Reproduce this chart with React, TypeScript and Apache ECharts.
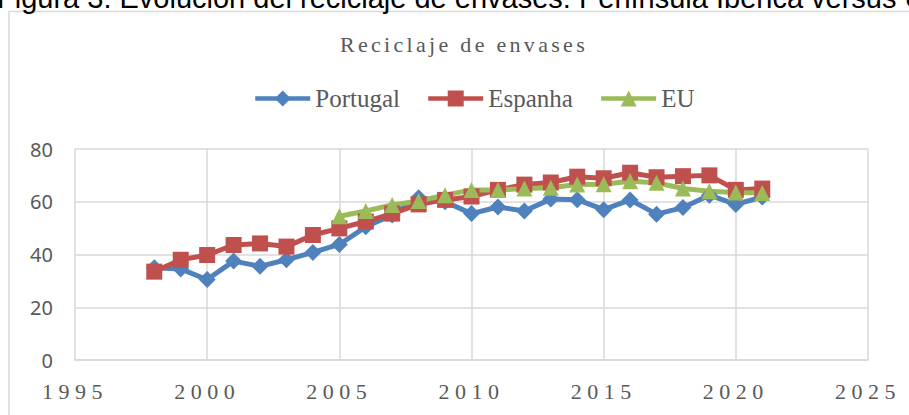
import React, { useEffect, useRef } from "react";
import * as echarts from "echarts";

const years = [1998, 1999, 2000, 2001, 2002, 2003, 2004, 2005, 2006, 2007, 2008, 2009, 2010, 2011, 2012, 2013, 2014, 2015, 2016, 2017, 2018, 2019, 2020, 2021];
const portugal = [35, 34.5, 30.5, 37.5, 35.5, 38, 40.8, 43.8, 50.5, 55, 61.5, 60, 55.5, 58, 56.5, 61, 60.8, 57, 60.7, 55.3, 57.8, 62.5, 59, 61.8];
const espanha = [33.5, 38, 39.8, 43.6, 44.2, 43, 47.4, 49.9, 52.5, 55.5, 59, 60.7, 62, 64.5, 66.5, 67.3, 69.5, 68.9, 71, 69.3, 69.7, 70, 64.5, 65];
const euYears = [2005, 2006, 2007, 2008, 2009, 2010, 2011, 2012, 2013, 2014, 2015, 2016, 2017, 2018, 2019, 2020, 2021];
const eu = [54.5, 56.5, 58.8, 60.3, 62.5, 64.5, 64.5, 65, 65.3, 66.5, 66.6, 67.8, 67.2, 65, 64, 63.5, 63.3];
const seriesNames = ["Portugal", "Espanha", "EU"];
const chartTitle = "Reciclaje de envases";
const caption = "Figura 3: Evolución del reciclaje de envases: Península Ibérica versus UE";

const BLUE = "#4F81BD";
const RED = "#C0504D";
const GREEN = "#9BBB59";
const GRID = "#D9D9D9";
const TXT = "#595959";

export default function App() {
  const ref = useRef<HTMLDivElement>(null);
  useEffect(() => {
    const chart = echarts.init(ref.current!, null, { renderer: "svg" });
    const pair = (xs: number[], ys: number[]) => xs.map((x, i) => [x, ys[i]]);
    chart.setOption({
      animation: false,
      backgroundColor: "#ffffff",
      graphic: [
        {
          type: "rect",
          shape: { x: 9, y: 11.5, width: 1000, height: 500 },
          style: { fill: "none", stroke: GRID, lineWidth: 1.5 },
          silent: true,
        },
        {
          type: "text",
          x: -3,
          y: -2.5,
          style: {
            text: caption,
            fontFamily: "'Liberation Sans'",
            fontSize: 29,
            fill: "#000000",
            verticalAlign: "middle",
          },
          silent: true,
        },
      ],
      title: {
        text: chartTitle,
        left: 464,
        top: 33,
        padding: 0,
        textAlign: "center",
        textStyle: {
          fontFamily: "spacedA, 'Liberation Serif'",
          fontSize: 22,
          fontWeight: "normal",
          color: TXT,
        },
      },
      legend: {
        data: seriesNames,
        left: 253,
        top: 86,
        padding: 0,
        itemWidth: 55,
        itemHeight: 20,
        itemGap: 26,
        lineStyle: { width: 4.5 },
        textStyle: {
          fontFamily: "'Liberation Serif'",
          fontSize: 25,
          color: TXT,
        },
      },
      grid: { left: 75, right: 41, top: 149, bottom: 55 },
      xAxis: {
        type: "value",
        min: 1995,
        max: 2025,
        interval: 5,
        axisLine: { show: true, lineStyle: { color: GRID, width: 1.5 } },
        axisTick: { show: false },
        splitLine: { show: true, lineStyle: { color: GRID, width: 1.5 } },
        axisLabel: {
          margin: 20,
          formatter: (v: number) => String(v),
          fontFamily: "spacedB, 'Liberation Serif'",
          fontSize: 22,
          color: TXT,
        },
      },
      yAxis: {
        type: "value",
        min: 0,
        max: 80,
        interval: 20,
        axisLine: { show: false },
        axisTick: { show: false },
        splitLine: { show: true, lineStyle: { color: GRID, width: 1.5 } },
        axisLabel: {
          margin: 22,
          fontFamily: "'Noto Sans'",
          fontSize: 20,
          color: TXT,
        },
      },
      series: [
        {
          name: seriesNames[0],
          type: "line",
          data: pair(years, portugal),
          symbol: "diamond",
          symbolSize: 17,
          lineStyle: { color: BLUE, width: 5 },
          itemStyle: { color: BLUE },
        },
        {
          name: seriesNames[1],
          type: "line",
          data: pair(years, espanha),
          symbol: "rect",
          symbolSize: 16,
          lineStyle: { color: RED, width: 5 },
          itemStyle: { color: RED },
        },
        {
          name: seriesNames[2],
          type: "line",
          data: pair(euYears, eu),
          symbol: "triangle",
          symbolSize: [16, 16],
          lineStyle: { color: GREEN, width: 5 },
          itemStyle: { color: GREEN },
        },
      ],
    });
    return () => chart.dispose();
  }, []);
  return (
    <>
      <style>{`
        body { margin: 0; }
        text[style*="spacedA"] { letter-spacing: 3.3px; }
        text[style*="spacedB"] { letter-spacing: 5.5px; }
      `}</style>
      <div ref={ref} style={{ position: "absolute", left: 0, top: 0, width: 909, height: 415 }} />
    </>
  );
}
